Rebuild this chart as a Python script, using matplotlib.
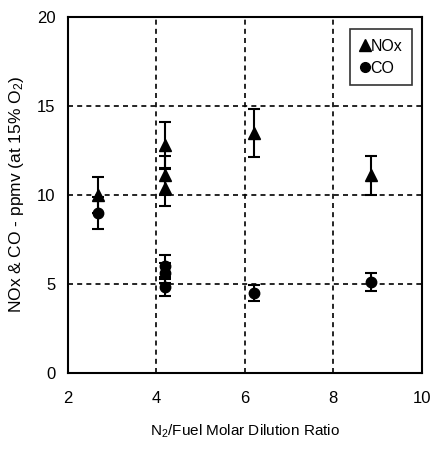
import matplotlib

matplotlib.use("Agg")
import matplotlib.pyplot as plt
from matplotlib.lines import Line2D

plt.rcParams["font.family"] = ["Liberation Sans", "DejaVu Sans"]

# Dilution ratio and measured emissions (ppmv at 15% O2)
nox_ratio = [2.68, 4.2, 4.2, 4.2, 6.2, 8.85]
nox_ppmv = [10.0, 12.8, 11.1, 10.4, 13.5, 11.1]
nox_err = [1.0, 1.28, 1.11, 1.04, 1.35, 1.11]

co_ratio = [2.68, 4.2, 4.2, 4.2, 6.2, 8.85]
co_ppmv = [9.0, 6.0, 5.6, 4.8, 4.5, 5.1]
co_err = [0.9, 0.6, 0.56, 0.48, 0.45, 0.51]

x_ticks = [2, 4, 6, 8, 10]
y_ticks = [0, 5, 10, 15, 20]

fig = plt.figure(figsize=(4.30, 4.49), dpi=100)
ax = fig.add_axes([0.158, 0.170, 0.823, 0.792])

ax.errorbar(nox_ratio, nox_ppmv, yerr=nox_err, fmt="^", color="black",
            markersize=9, elinewidth=1.5, capsize=4, capthick=1.5, zorder=3)
ax.errorbar(co_ratio, co_ppmv, yerr=co_err, fmt="o", color="black",
            markersize=7.5, elinewidth=1.5, capsize=4, capthick=1.5, zorder=3)

ax.set_xlim(2, 10)
ax.set_ylim(0, 20)
ax.set_xticks(x_ticks)
ax.set_yticks(y_ticks)
ax.tick_params(length=0, labelsize=12)
ax.tick_params(axis="x", pad=13)
ax.tick_params(axis="y", pad=9)
ax.grid(True, color="black", linestyle=(0, (3, 2.5)), linewidth=1.2)
ax.set_axisbelow(True)
for spine in ax.spines.values():
    spine.set_linewidth(1.5)

ax.set_xlabel(r"N$\mathregular{_2}$/Fuel Molar Dilution Ratio", fontsize=11, labelpad=12)
ax.set_ylabel(r"NOx & CO - ppmv (at 15% O$\mathregular{_2}$)", fontsize=12.5, labelpad=8)

handles = [
    Line2D([], [], marker="^", linestyle="none", color="black", markersize=8.5),
    Line2D([], [], marker="o", linestyle="none", color="black", markersize=7),
]
leg = ax.legend(handles, ["NOx", "CO"], loc="upper right",
                bbox_to_anchor=(0.985, 0.98), frameon=True, fancybox=False,
                edgecolor="black", fontsize=11.5, handlelength=0.6,
                handletextpad=0.05, borderpad=0.6, labelspacing=0.45,
                borderaxespad=0.3)
leg.get_frame().set_linewidth(1.2)

fig.savefig("out.png", dpi=100)
